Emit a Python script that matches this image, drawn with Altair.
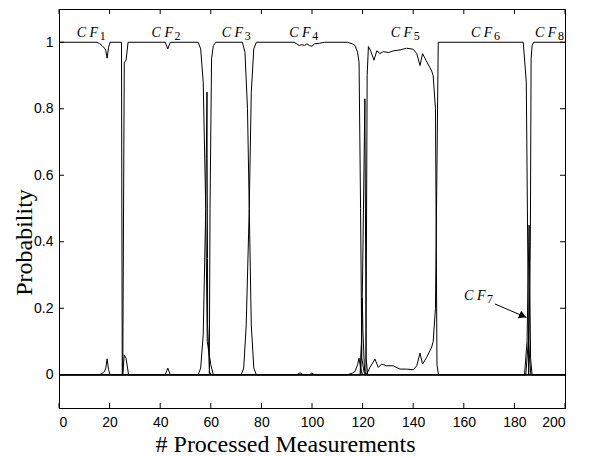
import altair as alt
import pandas as pd

# ---- series (breakpoints) ----
cf1_x = [0, 15, 16, 17, 18, 18.5, 19, 19.6, 20.2, 24.7, 25.0, 55, 56, 57, 58, 58.5, 58.55, 58.7, 58.75, 59.5, 60, 200]
cf1_y = [1, 1, 0.996, 0.99, 0.982, 0.975, 0.952, 0.985, 1, 1, 0, 0, 0.02, 0.12, 0.5, 0.85, 0.65, 0.35, 0.15, 0.01, 0, 0]

cf2_x = [0, 16, 17, 18, 18.5, 19, 19.6, 20.2, 25.2, 25.8, 26.5, 27.3, 42, 43, 44, 55, 56, 57, 58, 58.6, 60, 61, 200]
cf2_y = [0, 0, 0.004, 0.01, 0.02, 0.048, 0.015, 0, 0, 0.94, 0.945, 1, 1, 0.98, 1, 1, 0.98, 0.88, 0.5, 0.1, 0.03, 0, 0]

cf3_x = [0, 25.2, 25.8, 26.5, 27.5, 42, 43, 44, 59.4, 59.7, 60.3, 61, 62, 72.5, 73.5, 74.5, 75.2, 76, 77, 78,
         119.3, 120, 120.9, 121.4, 122, 200]
cf3_y = [0, 0, 0.06, 0.05, 0, 0, 0.02, 0, 0, 0.5, 0.95, 0.99, 1, 1, 0.97, 0.8, 0.5, 0.15, 0.02, 0,
         0, 0.3, 0.83, 0.05, 0, 0]

cf4_x = [0, 72, 73, 74, 75.2, 76, 77, 78, 93, 94, 95, 96, 97, 98, 99, 100, 101, 103, 105, 114, 116, 117,
         118, 118.6, 119.2, 119.7, 120.5, 121, 200]
cf4_y = [0, 0, 0.02, 0.15, 0.5, 0.85, 0.98, 1, 1, 0.995, 0.99, 0.993, 0.99, 0.995, 0.99, 0.988, 0.995, 0.997, 1, 1, 0.995, 0.99,
         0.97, 0.94, 0.5, 0.05, 0.01, 0, 0]

cf5_x = [0, 94, 95.3, 96.5, 99, 99.9, 101, 114, 116, 117, 118, 118.6, 119.2, 120,
         121.3, 121.8, 122.3, 123.2, 124.5, 125.6, 126.9, 128.2, 130.2, 132.1, 134.8, 137.4, 140.0, 141.4,
         142.7, 143.7, 145.1, 147.3, 147.9, 148.8, 149.4, 150, 184.5, 185.5, 186.5, 200]
cf5_y = [0, 0, 0.006, 0, 0, 0.005, 0, 0, 0.005, 0.01, 0.03, 0.05, 0.02, 0,
         0, 0.9, 0.987, 0.974, 0.946, 0.974, 0.966, 0.972, 0.969, 0.974, 0.977, 0.982, 0.979, 0.966,
         0.930, 0.966, 0.945, 0.914, 0.899, 0.8, 0.03, 0, 0, 0.1, 0, 0]

cf6_x = [0, 121.5, 122.9, 124.9, 126.2, 127.5, 129.5, 132.1, 134.8, 137.4, 140.0, 141.4, 142.7, 143.7,
         145.3, 147.3, 147.9, 148.8, 149.9, 183.5, 184.7, 185.7, 200]
cf6_y = [0, 0, 0.022, 0.047, 0.022, 0.032, 0.027, 0.027, 0.017, 0.017, 0.015, 0.027, 0.065, 0.032,
         0.052, 0.083, 0.1, 0.2, 1, 1, 0.88, 0, 0]

cf7_x = [0, 184, 185, 185.8, 186.4, 187, 200]
cf7_y = [0, 0, 0.1, 0.45, 0.05, 0, 0]

cf8_x = [0, 119, 119.6, 119.9, 120.1, 120.8, 121.5, 185.6, 186.3, 186.6, 187, 187.6, 200]
cf8_y = [0, 0, 0.1, 0.23, 0.135, 0.01, 0, 0, 0.4, 0.95, 0.99, 1, 1]

# ---- labels / annotation ----
lab_sub = ["1", "2", "3", "4", "5", "6", "8", "7"]
lab_x = [7.0, 36.6, 64.3, 91.0, 131.1, 162.8, 188.1, 160.1]
lab_y = [1.017, 1.017, 1.017, 1.017, 1.017, 1.017, 1.017, 0.225]

arrow_x = [172.3, 184.8]
arrow_y = [0.213, 0.172]
head_x = [183.35]
head_y = [0.177]

xticks = [0, 20, 40, 60, 80, 100, 120, 140, 160, 180, 200]
yticks = [0, 0.2, 0.4, 0.6, 0.8, 1]

series = {
    "CF1": (cf1_x, cf1_y), "CF2": (cf2_x, cf2_y), "CF3": (cf3_x, cf3_y), "CF4": (cf4_x, cf4_y),
    "CF5": (cf5_x, cf5_y), "CF6": (cf6_x, cf6_y), "CF7": (cf7_x, cf7_y), "CF8": (cf8_x, cf8_y),
}
rows = []
for name, (xs, ys) in series.items():
    assert len(xs) == len(ys), name
    for i, (a, b) in enumerate(zip(xs, ys)):
        rows.append({"s": name, "x": a, "y": b, "o": i})
df = pd.DataFrame(rows)

W, H = 506, 399
xs_ = alt.Scale(domain=[0, 200], nice=False, zero=False)
ys_ = alt.Scale(domain=[-0.1, 1.1], nice=False, zero=False)

XT = "# Processed Measurements"
YT = "Probability"

xaxis = alt.Axis(values=xticks, format="d", tickSize=0, domain=True, domainColor="black", grid=False,
                 labelPadding=7, titleX=226, titleY=43, titleBaseline="alphabetic", titleAlign="center")
yaxis = alt.Axis(values=yticks, format="~g", tickSize=0, domain=True, domainColor="black", grid=False,
                 labelPadding=6, titleX=-28, titleY=233, titleBaseline="alphabetic", titleAlign="center",
                 titleAngle=270)


def X(field):
    return alt.X(field, scale=xs_, axis=xaxis, title=XT)


def Y(field):
    return alt.Y(field, scale=ys_, axis=yaxis, title=YT)


lines = alt.Chart(df).mark_line(color="black", strokeWidth=1).encode(
    x=X("x:Q"), y=Y("y:Q"), detail="s:N", order="o:Q")

labdf = pd.DataFrame({"t": ["C\u2005F"] * len(lab_sub), "sub": lab_sub, "x": lab_x, "y": lab_y})
lab_main = alt.Chart(labdf).mark_text(
    align="left", baseline="alphabetic", font="Liberation Serif", fontStyle="italic", fontSize=14, color="black"
).encode(x=X("x:Q"), y=Y("y:Q"), text="t:N")
lab_sub_ch = alt.Chart(labdf).mark_text(
    align="left", baseline="alphabetic", font="Liberation Serif", fontSize=12, color="black", dx=23, dy=3
).encode(x=X("x:Q"), y=Y("y:Q"), text="sub:N")

arrdf = pd.DataFrame({"x": arrow_x, "y": arrow_y})
arrow = alt.Chart(arrdf).mark_line(color="black", strokeWidth=1).encode(x=X("x:Q"), y=Y("y:Q"))
head = alt.Chart(pd.DataFrame({"x": head_x, "y": head_y})).mark_point(
    shape="triangle-right", filled=True, color="black", size=70, angle=23, opacity=1
).encode(x=X("x:Q"), y=Y("y:Q"))

xtdf = pd.DataFrame({"x": xticks})
ytdf = pd.DataFrame({"y": yticks})
tk_top = alt.Chart(xtdf).mark_rule(color="black").encode(x=X("x:Q"), y=alt.value(0), y2=alt.value(5))
tk_bot = alt.Chart(xtdf).mark_rule(color="black").encode(x=X("x:Q"), y=alt.value(H), y2=alt.value(H - 5))
tk_left = alt.Chart(ytdf).mark_rule(color="black").encode(y=Y("y:Q"), x=alt.value(0), x2=alt.value(5))
tk_right = alt.Chart(ytdf).mark_rule(color="black").encode(y=Y("y:Q"), x=alt.value(W), x2=alt.value(W - 5))

chart = alt.layer(lines, tk_top, tk_bot, tk_left, tk_right, arrow, head, lab_main, lab_sub_ch).properties(
    width=W, height=H,
    background="white",
    autosize=alt.AutoSizeParams(type="none"),
    padding={"left": 51, "top": 1, "right": 18, "bottom": 48},
).configure_view(stroke="black", strokeWidth=1).configure_axis(
    labelFont="Liberation Sans", labelFontSize=14, labelColor="black",
    titleFont="Liberation Serif", titleFontSize=24, titleFontWeight="normal", titleColor="black",
)

chart.save("out.html", embed_options={"renderer": "svg", "actions": False})
